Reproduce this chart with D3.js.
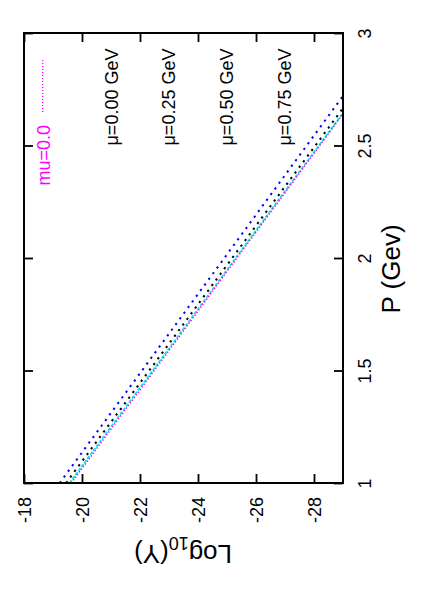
<!DOCTYPE html>
<html>
<head>
<meta charset="utf-8">
<script src="https://cdn.jsdelivr.net/npm/d3@7"></script>
<style>
  body { margin: 0; background: #fff; }
  text { font-family: "Liberation Sans", Arial, Helvetica, sans-serif; }
</style>
</head>
<body>
<div id="chart"><svg></svg></div>
<script>
// data (P in GeV, log10 of Y)
const pValues = [1, 1.25, 1.5, 1.75, 2, 2.25, 2.5, 2.75];
const mu075 = [-19.23, -20.65, -22.07, -23.49, -24.91, -26.33, -27.75, -29.17];
const mu050 = [-19.45, -20.88, -22.32, -23.75, -25.18, -26.61, -28.05, -29.48];
const mu025 = [-19.57, -21.00, -22.44, -23.87, -25.30, -26.73, -28.17, -29.60];
const mu000 = [-19.63, -21.06, -22.49, -23.92, -25.34, -26.77, -28.20, -29.62];

const logTicks = [-18, -20, -22, -24, -26, -28];
const pTicks = [1, 1.5, 2, 2.5, 3];
const muLabels = ['μ=0.00 GeV', 'μ=0.25 GeV', 'μ=0.50 GeV', 'μ=0.75 GeV'];
const muLabelAt = [-21.25, -23.22, -25.22, -27.2];   // log10(Y) where each label sits
const keyLabel = 'mu=0.0';

// plot box (the whole gnuplot page is turned on its side)
const boxL = 24, boxR = 343, boxT = 33, boxB = 483;

const svg = d3.select('#chart').select('svg')
    .attr('width', 421)
    .attr('height', 600);

svg.append('rect').attr('width', 421).attr('height', 600).attr('fill', '#fff');

// log10(Y) runs left -> right, P runs bottom -> top
const yScale = d3.scaleLinear().domain([-18, -29]).range([boxL, boxR]);
const pScale = d3.scaleLinear().domain([1, 3]).range([boxB, boxT]);

const series = [
    {vals: mu075, color: '#0000ff', dash: '2.2,4.8', w: 2},
    {vals: mu050, color: '#000000', dash: '2.2,4.8', w: 2},
    {vals: mu025, color: '#00e8e8', dash: '3.5,1.5', w: 1.8},
    {vals: mu000, color: '#ff00ff', dash: '1.3,2', w: 1.6}
];

svg.append('clipPath').attr('id', 'clip')
  .append('rect')
    .attr('x', boxL).attr('y', boxT)
    .attr('width', boxR - boxL).attr('height', boxB - boxT);

const line = d3.line()
    .x(d => yScale(d.v))
    .y(d => pScale(d.p));

svg.append('g').attr('clip-path', 'url(#clip)')
  .selectAll('path')
  .data(series)
  .join('path')
    .attr('d', s => line(s.vals.map((v, i) => ({p: pValues[i], v: v}))))
    .attr('fill', 'none')
    .attr('stroke', s => s.color)
    .attr('stroke-width', s => s.w)
    .attr('stroke-dasharray', s => s.dash);

// ticks on all four sides, pointing in
const fmt = d => String(d);

const bottomAxis = svg.append('g')
    .attr('transform', `translate(0,${boxB})`)
    .call(d3.axisBottom(yScale).tickValues(logTicks).tickSize(-9).tickFormat(fmt));
bottomAxis.selectAll('text')
    .attr('transform', 'rotate(-90)')
    .attr('x', -14)
    .attr('y', 6.5)
    .attr('dy', null)
    .attr('text-anchor', 'end');

svg.append('g')
    .attr('transform', `translate(0,${boxT})`)
    .call(d3.axisTop(yScale).tickValues(logTicks).tickSize(-9).tickFormat(''));

const rightAxis = svg.append('g')
    .attr('transform', `translate(${boxR},0)`)
    .call(d3.axisRight(pScale).tickValues(pTicks).tickSize(-9).tickFormat(fmt));
rightAxis.selectAll('text')
    .attr('transform', 'rotate(-90)')
    .attr('x', 0)
    .attr('y', 28)
    .attr('dy', null)
    .attr('text-anchor', 'middle');

svg.append('g')
    .attr('transform', `translate(${boxL},0)`)
    .call(d3.axisLeft(pScale).tickValues(pTicks).tickSize(-9).tickFormat(''));

svg.selectAll('.domain').remove();
svg.selectAll('.tick line').attr('stroke', '#000').attr('stroke-width', 1.8);
svg.selectAll('.tick text')
    .attr('font-size', 18)
    .attr('font-family', '"Liberation Sans", Arial, Helvetica, sans-serif')
    .attr('fill', '#000');

// frame
svg.append('rect')
    .attr('x', boxL).attr('y', boxT)
    .attr('width', boxR - boxL).attr('height', boxB - boxT)
    .attr('fill', 'none')
    .attr('stroke', '#000')
    .attr('stroke-width', 2);

// axis titles
svg.append('text')
    .attr('transform', 'translate(400,269) rotate(-90)')
    .attr('text-anchor', 'middle')
    .attr('font-size', 26)
    .text('P (Gev)');

const yTitle = svg.append('text')
    .attr('transform', 'translate(183,545) rotate(180)')
    .attr('text-anchor', 'middle')
    .attr('font-size', 26);
yTitle.append('tspan').text('Log');
yTitle.append('tspan').attr('font-size', 18).attr('dy', 8).text('10');
yTitle.append('tspan').attr('dy', -8).text('(Y)');

// labels for the curves
svg.selectAll('text.mu')
  .data(muLabels)
  .join('text')
    .attr('class', 'mu')
    .attr('transform', (d, i) => `translate(${yScale(muLabelAt[i])},${pScale(2.5)}) rotate(-90)`)
    .attr('text-anchor', 'start')
    .attr('font-size', 18)
    .text(d => d);

// key
svg.append('text')
    .attr('transform', 'translate(49.5,125) rotate(-90)')
    .attr('text-anchor', 'end')
    .attr('font-size', 18)
    .attr('fill', '#ff00ff')
    .text(keyLabel);

svg.append('line')
    .attr('x1', 42.7).attr('x2', 42.7)
    .attr('y1', 112).attr('y2', 58)
    .attr('stroke', '#ff00ff')
    .attr('stroke-width', 1.3)
    .attr('stroke-dasharray', '1,2');
</script>
</body>
</html>
